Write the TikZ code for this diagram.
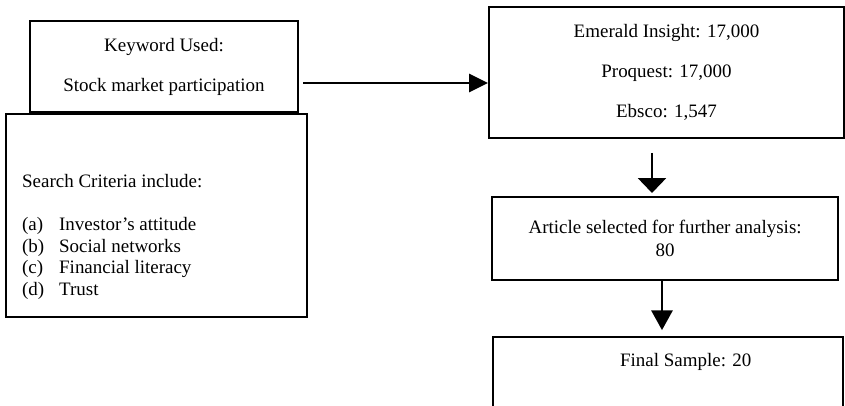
\documentclass[tikz,border=0pt]{standalone}
\usepackage{fontspec}
\setmainfont{Liberation Serif}
\usepackage{tikz}
\usetikzlibrary{
  arrows.meta,
  positioning,
  calc
}

\begin{document}
\begin{tikzpicture}[
  node distance=12mm and 12mm,
  flowBox/.style={
    draw, line width=1.25pt, align=center, inner sep=0pt,
    font=\fontsize{12pt}{13.6pt}\selectfont, fill=white,
  },
  plainText/.style={
    inner sep=0pt, align=left, font=\fontsize{12pt}{13.6pt}\selectfont,
  },
  flowArrow/.style={
    line width=1.6pt, -{Triangle[length=4.2mm, width=4mm]},
  },
]
\useasboundingbox (0,0) rectangle (18.778,-9.022);

% Keyword and search criteria
\node[flowBox, minimum width=5.956cm, minimum height=2.022cm] (kw) at (3.644,-1.478)
  {Keyword Used:\\[11.7pt]Stock market participation};
\node[flowBox, minimum width=6.689cm, minimum height=4.511cm, below=0pt of kw, xshift=-1.7mm] (crit) {};
\node[plainText, anchor=north west] (critText) at ($(crit.north west)+(0.378,-1.356)$)
  {Search Criteria include:\\[13.6pt]
   \makebox[23.4pt][l]{(a)}Investor’s attitude\\
   \makebox[23.4pt][l]{(b)}Social networks\\
   \makebox[23.4pt][l]{(c)}Financial literacy\\
   \makebox[23.4pt][l]{(d)}Trust};

% Database hits and selection
\node[flowBox, minimum width=7.889cm, minimum height=2.911cm] (db) at (14.811,-1.611)
  {Emerald Insight: 17,000\\[11.7pt]Proquest: 17,000\\[11.7pt]Ebsco: 1,547};
\node[flowBox, minimum width=7.689cm, minimum height=1.844cm, below=1.27cm of db, xshift=-0.3mm] (art)
  {Article selected for further analysis:\\[0.9pt]80};
\node[flowBox, minimum width=7.778cm, minimum height=1.6cm, below=1.22cm of art, xshift=0.7mm] (fin) {};
\node[plainText] (finText) at ($(fin.center)+(0.389,0.244)$) {Final Sample: 20};

\draw[flowArrow] ($(kw.east)+(0.09,-0.367)$) -- ($(kw.east -| db.west)+(0,-0.367)$);
\draw[flowArrow, -{Triangle[length=3.3mm, width=6.2mm]}]
  ($(db.south)+(-0.322,-0.311)$) -- ($(db.south |- art.north)+(-0.322,0.07)$);
\draw[flowArrow, -{Triangle[length=4.4mm, width=4.7mm]}]
  ($(art.south)+(-0.07,0)$) -- ($(art.south |- fin.north)+(-0.07,0.13)$);

\end{tikzpicture}
\end{document}
